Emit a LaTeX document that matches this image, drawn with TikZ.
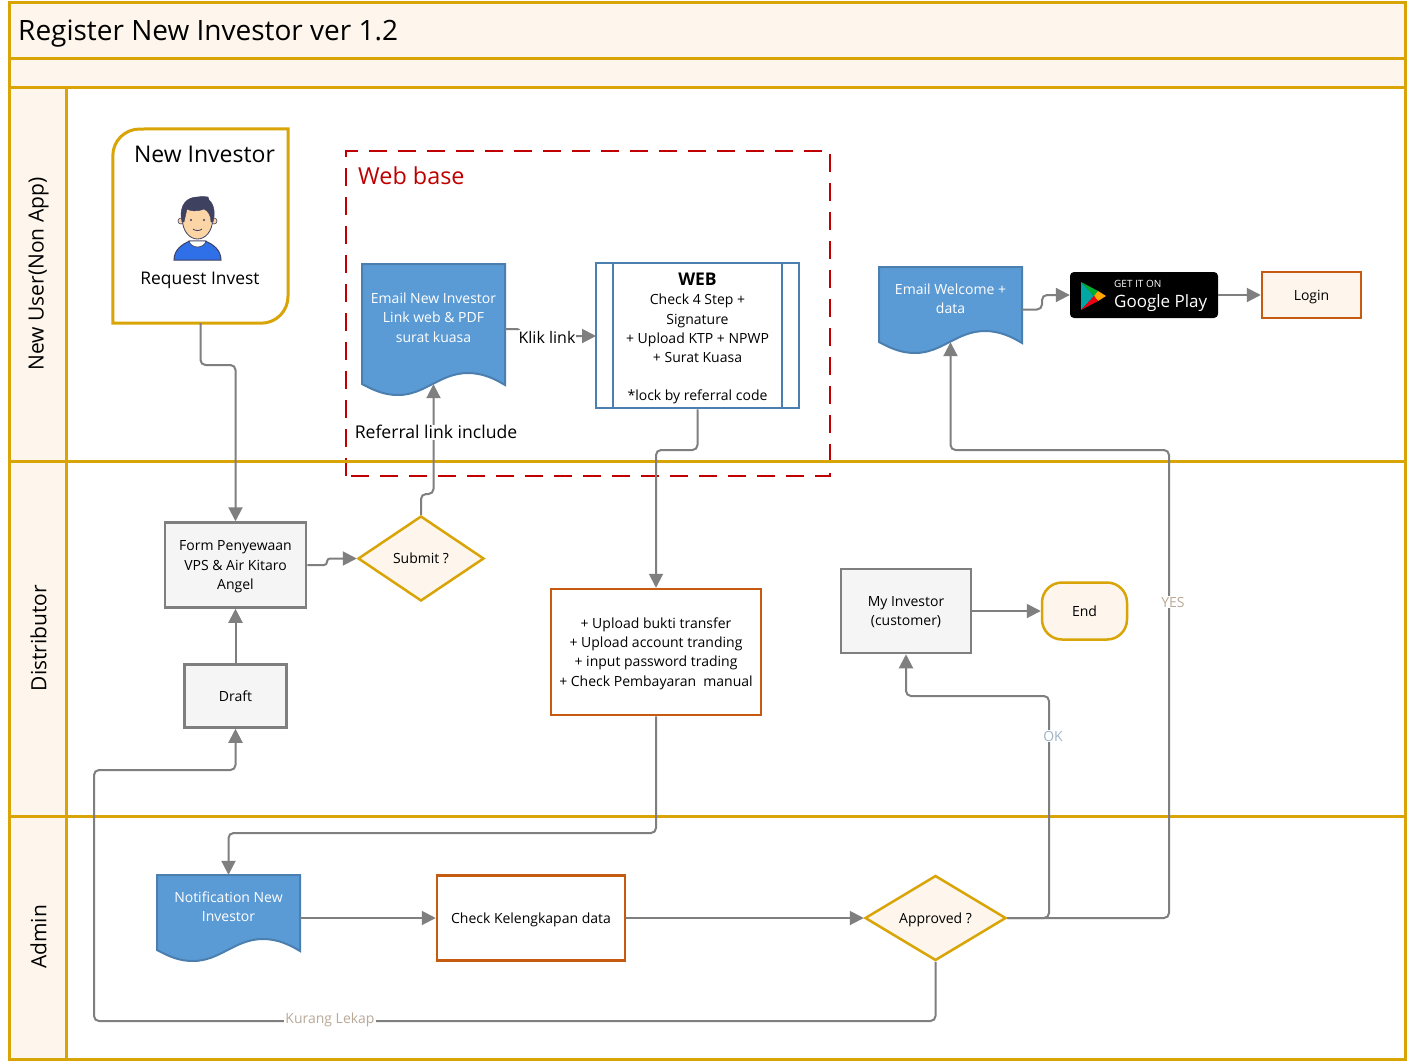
\documentclass[tikz,border=0pt]{standalone}
\usepackage{fontspec}
\setmainfont{Open Sans}
\usetikzlibrary{arrows.meta,shapes.geometric}
\definecolor{gold}{HTML}{D9A406}
\definecolor{cream}{HTML}{FEF6EC}
\definecolor{webred}{HTML}{C00000}
\definecolor{docblue}{HTML}{5B9BD5}
\definecolor{docline}{HTML}{4A7FB0}
\definecolor{boxorange}{HTML}{C55A11}
\definecolor{linegray}{HTML}{7F7F7F}
\definecolor{oktext}{HTML}{9FB4C7}
\definecolor{tantext}{HTML}{B9A999}
\definecolor{hairdark}{HTML}{3F4160}
\definecolor{skin}{HTML}{FBD5A5}
\definecolor{shirt}{HTML}{2F6FE8}
\tikzstyle{lane}=[draw=gold,line width=3pt,fill=cream]
\tikzstyle{lanebody}=[draw=gold,line width=3pt,fill=white]
\tikzstyle{lanetext}=[rotate=90,font=\fontsize{21}{25}\selectfont]
\tikzstyle{txt}=[align=center,inner sep=0pt,text depth=0pt,font=\fontsize{14}{19.2}\selectfont]
\tikzstyle{oneline}=[text height=10pt,text depth=0pt]
\tikzstyle{bigtxt}=[align=center,inner sep=1pt,font=\fontsize{17.5}{21}\selectfont]
\tikzstyle{graybox}=[txt,rectangle,draw=linegray,line width=2.5pt,fill=black!4]
\tikzstyle{orangebox}=[txt,rectangle,draw=boxorange,line width=2.5pt,fill=white]
\tikzstyle{decision}=[txt,oneline,diamond,aspect=1.5,inner sep=0pt,draw=gold,line width=2.5pt,fill=cream]
\tikzstyle{edge}=[draw=linegray,line width=2pt,rounded corners=5pt,-{Triangle[length=14pt,width=14pt]}]
\tikzstyle{edgelabel}=[txt,oneline,fill=white,inner sep=1pt]
\tikzstyle{doclabel}=[txt,text=white]
\tikzstyle{docbody}=[fill=docblue,draw=docline,line width=2pt,line join=miter]
% name, left, top, height down to the wave, text, text height
\newcommand{\wavedoc}[6]{
	\begin{scope}[shift={(#2,#3)}]
		\path[docbody] (0,0) -- (143,0) -- (143,#4+1)
			.. controls (133,#4-5) and (121,#4-11) .. (106,#4-11)
			.. controls (78,#4-11) and (63,#4+11) .. (36,#4+11)
			.. controls (23,#4+11) and (13,#4+7) .. (0,#4) -- cycle;
	\end{scope}
	\node[minimum width=143pt,minimum height=#4 pt,inner sep=0pt] (#1) at (#2+71.5,#3+#4/2) {};
	\node[doclabel] (#1label) at (#2+71.5,#6) {#5};
}

\begin{document}
\begin{tikzpicture}[x=1pt,y=-1pt]
	\useasboundingbox (0,0) rectangle (1408,1061);

%lanes
	\path[lane] (9,2) rectangle (1405,58);
	\path[lane] (9,58) rectangle (1405,87);
	\foreach \top/\bot in {87/461, 461/816, 816/1059}
	{
		\path[lane] (9,\top) rectangle (66,\bot);
		\path[lanebody] (66,\top) rectangle (1405,\bot);
	}
	\node[anchor=west,inner sep=0pt,font=\fontsize{28}{32}\selectfont] (title) at (18,34) {Register New Investor ver 1.2};
	\node[lanetext] (laneuser) at (38.5,274) {New User(Non App)};
	\node[lanetext] (lanedist) at (38.5,638) {Distributor};
	\node[lanetext] (laneadmin) at (38.5,937) {Admin};

%web base
	\draw[webred,line width=2.5pt,dash pattern=on 18pt off 11pt] (346,476) -- (346,151) -- (830,151) -- (830,476) -- cycle;
	\draw[gold,line width=3pt] (66,461) -- (1405,461);
	\node[anchor=west,inner sep=0pt,text=webred,font=\fontsize{23.4}{28}\selectfont] (webbase) at (358,176) {Web base};

%new investor
	\node[minimum width=175pt,minimum height=194pt,inner sep=0pt] (investor) at (200.5,226) {};
	\draw[gold,line width=3pt] (investor.north east) -- (288,296)
		[rounded corners=27pt] -- (investor.south east) [sharp corners] -- (investor.south west)
		[rounded corners=27pt] -- (investor.north west) [sharp corners] -- (140,129) -- (investor.north east) -- cycle;
	\node[bigtxt,font=\fontsize{23}{27}\selectfont] (investortitle) at (204.5,154) {New Investor};
	\node[bigtxt,font=\fontsize{17.4}{21}\selectfont] (investorreq) at (200,280.5) {Request Invest};
%person
	\path[fill=shirt,draw=hairdark,line width=1pt] (174,260) .. controls (174,250) and (182,244) .. (190,241) -- (205,241) .. controls (213,244) and (221,250) .. (221,260) -- cycle;
	\path[fill=white,draw=hairdark,line width=.7pt] (189,241) .. controls (191,249) and (204,249) .. (206,241) -- cycle;
	\fill[skin,draw=hairdark,line width=.6pt] (181,221) circle (3pt) (214,221) circle (3pt);
	\path[fill=skin,draw=hairdark,line width=.8pt] (197.5,220) ellipse (15pt and 19pt);
	\path[fill=hairdark,draw=hairdark] (182,222) .. controls (178,204) and (188,197) .. (197,197) .. controls (203,196) and (207,197) .. (208,197) -- (209,200) .. controls (215,205) and (215,215) .. (213,222) -- (211,222) .. controls (211,215) and (208,211) .. (204,209) .. controls (197,212) and (190,211) .. (187,209) -- (184,222) -- cycle;
	\fill[hairdark] (191,220) circle (1.2pt) (204,220) circle (1.2pt);
	\draw[hairdark,line width=.8pt] (193,229) .. controls (195,231) and (200,231) .. (202,229);

%documents
	\wavedoc{email}{362}{264}{120}{Email New Investor\\Link web \& PDF\\surat kuasa}{317.5}
	\wavedoc{welcome}{879}{267}{75}{Email Welcome +\\data}{299}
	\wavedoc{notif}{157}{875}{75}{Notification New\\Investor}{907}

%web box
	\node[txt,rectangle,draw=docline,line width=2.5pt,fill=white,minimum width=203pt,minimum height=145pt] (web) at (697.5,335.5) {};
	\draw[docline,line width=2.5pt] (613,263) -- (613,408) (782,263) -- (782,408);
	\node[txt,anchor=north] (webtext) at (697.5,273) {{\fontsize{17.5}{19.2}\selectfont\bfseries WEB}\\Check 4 Step +\\Signature\\+ Upload KTP + NPWP\\+ Surat Kuasa\\[19.2pt]*lock by referral code};

%boxes
	\node[graybox,minimum width=141pt,minimum height=85pt] (form) at (235.5,565) {Form Penyewaan\\VPS \& Air Kitaro\\Angel};
	\node[graybox,oneline,minimum width=102pt,minimum height=63pt] (draft) at (235.5,696) {Draft};
	\node[graybox,minimum width=130pt,minimum height=84pt] (myinvestor) at (906,611) {My Investor\\(customer)};
	\node[orangebox,minimum width=210pt,minimum height=126pt] (upload) at (656,652) {+ Upload bukti transfer\\+ Upload account tranding\\+ input password trading\\+ Check Pembayaran~~manual};
	\node[orangebox,oneline,minimum width=188pt,minimum height=85pt] (check) at (531,918) {Check Kelengkapan data};
	\node[orangebox,oneline,minimum width=99pt,minimum height=46pt,fill=cream] (login) at (1311.5,295) {Login};
	\node[txt,oneline,rectangle,rounded corners=20pt,draw=gold,line width=2.5pt,fill=cream,minimum width=85pt,minimum height=57pt] (end) at (1084.5,611) {End};
	\node[decision,minimum width=126pt,minimum height=85pt] (submit) at (421,558.5) {Submit ?};
	\node[decision,minimum width=141pt,minimum height=85pt] (approved) at (935.5,918) {Approved ?};

%google play
	\node[rectangle,fill=black,rounded corners=4pt,minimum width=148pt,minimum height=46pt,inner sep=0pt] (play) at (1144,295) {};
	\fill[teal!70!cyan] (1081,282) -- (1094,296) -- (1081,310) -- cycle;
	\fill[green!60!black!80!cyan] (1081,282) -- (1098,291) -- (1094,296) -- cycle;
	\fill[orange!70!yellow] (1098,291) -- (1106,296) -- (1098,301) -- (1094,296) -- cycle;
	\fill[red!70!purple] (1081,310) -- (1094,296) -- (1098,301) -- cycle;
	\node[anchor=west,inner sep=0pt,text=white,font=\fontsize{10}{11}\selectfont] (playget) at (1114,284) {GET IT ON};
	\node[anchor=west,inner sep=0pt,text=white,font=\fontsize{17}{20}\selectfont] (playname) at (1114,303) {Google Play};

%connectors
	\path[edge] (investor.south) -- (200.5,365) -- (235.5,365) -- (form.north);
	\path[edge,rounded corners=3pt] (form.east) -- (327,565) -- (327,558.5) -- (submit.west);
	\path[edge] (submit.north) -- (421,494) -- (433.5,494) -- (email.south);
	\path[edge,rounded corners=3pt] ([yshift=-5pt]email.east) -- (520,329) -- (520,336) -- (596,336);
	\path[edge] (web.south) -- (697.5,450) -- (656,450) -- (upload.north);
	\path[edge] (draft.north) -- (form.south);
	\path[edge] (upload.south) -- (656,833) -- (228.5,833) -- (notif.north);
	\path[edge] ([yshift=-5.5pt]notif.east) -- (check.west);
	\path[edge] (check.east) -- (approved.west);
	\path[edge] (approved.east) -- (1049,918) -- (1049,696) -- (906,696) -- (myinvestor.south);
	\path[edge] (approved.east) -- (1169,918) -- (1169,450) -- (950.5,450) -- (welcome.south);
	\path[edge] (approved.south) -- (935.5,1021) -- (94,1021) -- (94,770) -- (235.5,770) -- (draft.south);
	\path[edge] (myinvestor.east) -- (end.west);
	\path[edge] ([yshift=-5pt]welcome.east) -- (1042,309.5) -- (1042,295) -- (play.west);
	\path[edge] (play.east) -- (login.west);

%labels
	\node[edgelabel,text height=13pt,font=\fontsize{17.6}{21}\selectfont] (referral) at (436,432) {Referral link include};
	\node[edgelabel,text height=12pt,font=\fontsize{16}{19}\selectfont] (kliklink) at (547,337) {Klik link};
	\node[edgelabel,text=oktext] (oklabel) at (1053,736) {OK};
	\node[edgelabel,text=tantext] (yeslabel) at (1173,602) {YES};
	\node[edgelabel,text=tantext] (kurang) at (330,1018) {Kurang Lekap};

\end{tikzpicture}
\end{document}
